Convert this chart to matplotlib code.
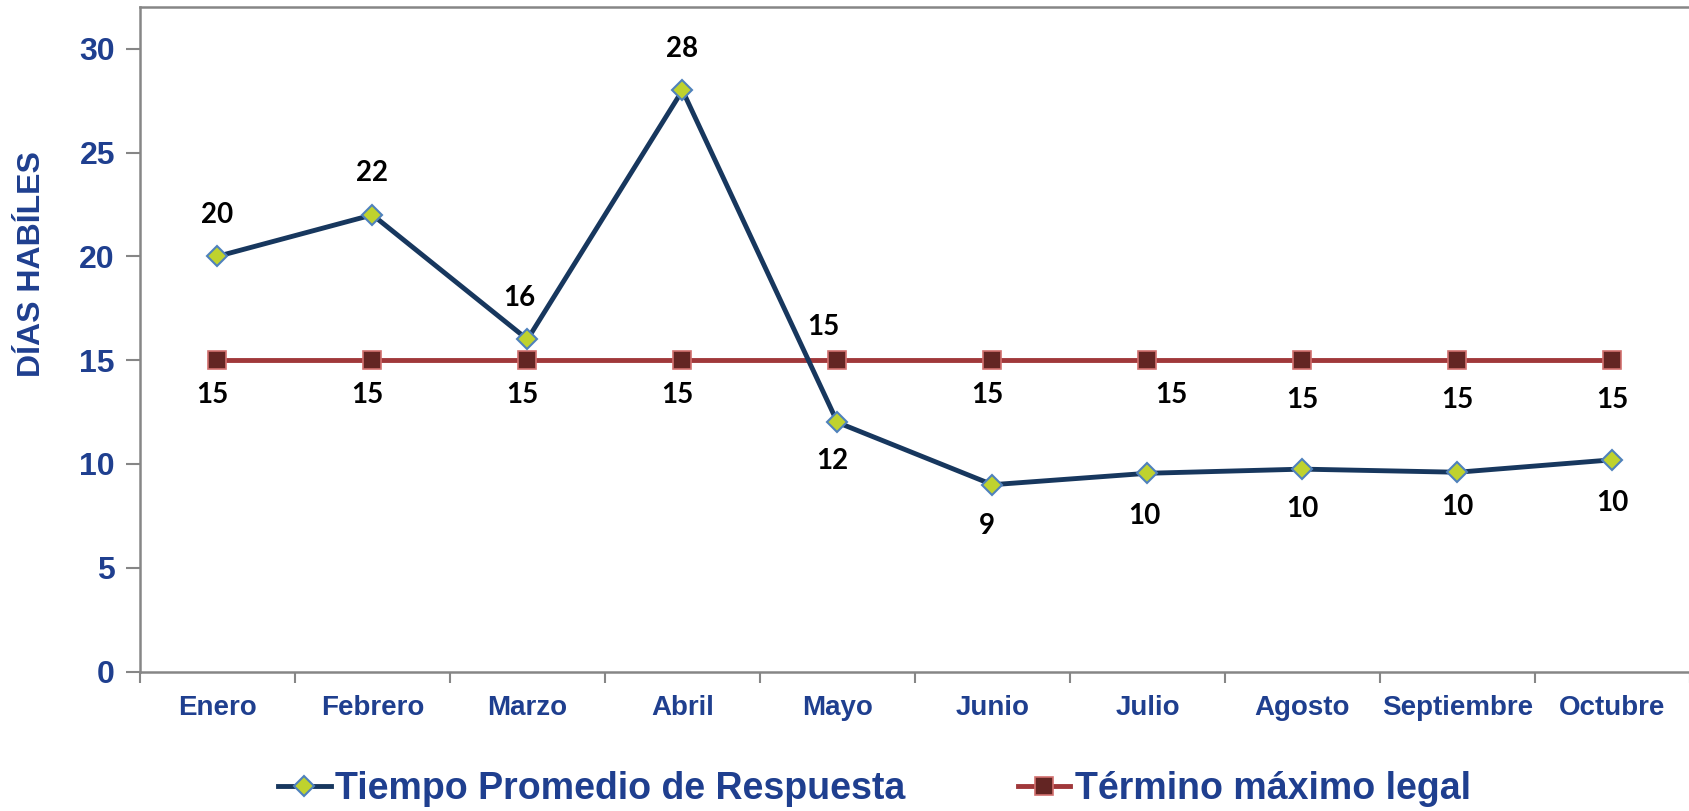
import matplotlib
matplotlib.use("Agg")
import matplotlib.pyplot as plt
from matplotlib.ticker import FixedLocator, NullFormatter

# data
meses = ["Enero", "Febrero", "Marzo", "Abril", "Mayo", "Junio",
         "Julio", "Agosto", "Septiembre", "Octubre"]
tiempo_promedio = [20, 22, 16, 28, 12, 9, 9.55, 9.75, 9.6, 10.2]
termino_legal = [15, 15, 15, 15, 15, 15, 15, 15, 15, 15]

# label offsets in points (dx, dy), one per month
off_tiempo = [(0, 30), (0, 30), (-6, 30), (0, 30), (-4, -28), (-4, -30),
              (-2, -31), (0, -29), (0, -25), (0, -31)]
off_legal = [(-4, -25), (-4, -25), (-4, -25), (-4, -25), (-10, 24), (-4, -25),
             (17, -25), (0, -29), (0, -29), (0, -29)]

txt_blue = "#1F3F8F"
axis_gray = "#868686"

plt.rcParams["font.family"] = ["Liberation Sans", "DejaVu Sans"]

fig = plt.figure(figsize=(16.9, 8.11), dpi=100)
ax = fig.add_axes([0.0828, 0.172, 0.9172, 0.819])

x = list(range(len(meses)))

l1, = ax.plot(x, tiempo_promedio, color="#17375E", linewidth=3.5,
              marker="D", markersize=10.5, markerfacecolor="#BFD22E",
              markeredgecolor="#4F81BD", markeredgewidth=1.5, zorder=3,
              label="Tiempo Promedio de Respuesta")
l2, = ax.plot(x, termino_legal, color="#A0383A", linewidth=3.5,
              marker="s", markersize=13.5, markerfacecolor="#632523",
              markeredgecolor="#D2706E", markeredgewidth=1.2, zorder=2,
              label="Término máximo legal")

for xi, v, o in zip(x, tiempo_promedio, off_tiempo):
    ax.annotate(f"{v:.0f}", (xi, v), xytext=o, textcoords="offset points",
                ha="center", va="center", fontsize=20, fontweight="bold",
                family=["Lato", "DejaVu Sans"], color="black")
for xi, v, o in zip(x, termino_legal, off_legal):
    ax.annotate(f"{v:.0f}", (xi, v), xytext=o, textcoords="offset points",
                ha="center", va="center", fontsize=20, fontweight="bold",
                family=["Lato", "DejaVu Sans"], color="black")

ax.set_xlim(-0.5, len(meses) - 0.5)
ax.set_ylim(0, 32)
ax.set_yticks([0, 5, 10, 15, 20, 25, 30])

ax.set_xticks(x)
ax.set_xticklabels(meses)
ax.xaxis.set_minor_locator(FixedLocator([i - 0.5 for i in range(len(meses) + 1)]))
ax.xaxis.set_minor_formatter(NullFormatter())
ax.tick_params(axis="x", which="major", length=0, pad=17,
               labelsize=20, labelcolor=txt_blue)
ax.tick_params(axis="x", which="minor", length=8, width=1.5, color=axis_gray)
ax.tick_params(axis="y", length=10, width=1.5, color=axis_gray, pad=8,
               labelsize=23, labelcolor=txt_blue)
for lab in ax.get_xticklabels() + ax.get_yticklabels():
    lab.set_fontweight("bold")

for side in ["left", "bottom", "top"]:
    ax.spines[side].set_color(axis_gray)
    ax.spines[side].set_linewidth(1.8)
ax.spines["right"].set_visible(False)

ax.set_ylabel("DÍAS HABÍLES", fontsize=23, fontweight="bold", color=txt_blue)
ax.yaxis.set_label_coords(-0.06, 0.614)

leg = fig.legend(handles=[l1, l2], loc="center", bbox_to_anchor=(0.5175, 0.027),
                 ncol=2, frameon=False, handlelength=1.4,
                 handletextpad=0.12, columnspacing=3.0,
                 prop={"weight": "bold", "size": 27})
for t in leg.get_texts():
    t.set_color(txt_blue)

fig.savefig("out.png", dpi=100)
